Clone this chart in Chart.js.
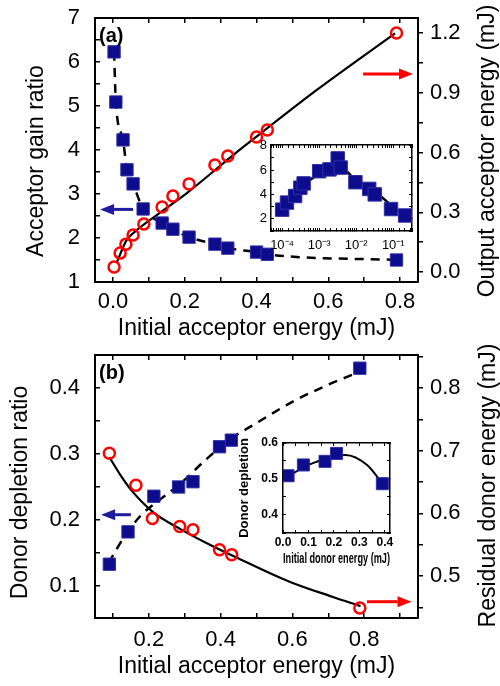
<!DOCTYPE html>
<html>
<head>
<meta charset="utf-8">
<script src="https://cdn.jsdelivr.net/npm/chart.js@4.4.0/dist/chart.umd.min.js"></script>
<style>
  body { margin: 0; background: #fff; }
  #wrap { position: relative; width: 500px; height: 686px; background: #fff; }
  canvas { position: absolute; }
</style>
</head>
<body>
<div id="wrap">
  <canvas id="chartA" width="500" height="343" style="left:0;top:0"></canvas>
  <canvas id="chartB" width="500" height="343" style="left:0;top:343px"></canvas>
  <canvas id="insetA" width="185" height="125" style="left:240px;top:130px"></canvas>
  <canvas id="insetB" width="195" height="145" style="left:225px;top:425px"></canvas>
</div>
<script>
// panel (a): acceptor gain ratio (squares, left) and output acceptor energy (circles, right)
const gainX = [0.003, 0.008, 0.028, 0.039, 0.056, 0.084, 0.137, 0.167, 0.212, 0.284, 0.32, 0.40, 0.43, 0.79];
const gainRatio = [6.23, 5.09, 4.23, 3.55, 3.23, 2.66, 2.34, 2.2, 2.02, 1.86, 1.77, 1.68, 1.63, 1.5];
const outX = [0.003, 0.02, 0.036, 0.056, 0.086, 0.137, 0.167, 0.212, 0.284, 0.32, 0.40, 0.43, 0.79];
const outEnergy = [0.025, 0.095, 0.14, 0.186, 0.241, 0.326, 0.382, 0.442, 0.537, 0.582, 0.678, 0.713, 1.2];
const outFitX = [0.011, 0.038, 0.066, 0.122, 0.205, 0.335, 0.382, 0.568, 0.786];
const outFitY = [0.05, 0.16, 0.21, 0.286, 0.395, 0.587, 0.654, 0.914, 1.198];

// inset (a), log x
const insetAX = [1e-4, 1.35e-4, 2.24e-4, 3.1e-4, 3.8e-4, 1e-3, 1.9e-3, 3.16e-3, 3.8e-3, 9.5e-3, 2.24e-2, 3.16e-2, 8.7e-2, 0.209];
const insetAY = [2.75, 3.33, 3.87, 4.55, 4.9, 5.9, 6.05, 6.95, 6.2, 5.0, 4.45, 4.0, 2.8, 2.27];
const insetAFitX = [9.1e-5, 2.04e-4, 3.1e-4, 8.7e-4, 2e-3, 3.16e-3, 6.9e-3, 1.05e-2, 3.6e-2, 0.102, 0.209];
const insetAFitY = [2.75, 3.6, 4.6, 5.6, 6.13, 6.67, 5.6, 5.07, 4.13, 2.93, 2.27];

// panel (b): donor depletion ratio (squares, left) and residual donor energy (circles, right)
const depX = [0.09, 0.142, 0.214, 0.283, 0.323, 0.397, 0.43, 0.788];
const depRatio = [0.133, 0.182, 0.236, 0.25, 0.258, 0.311, 0.321, 0.43];
const depFitX = [0.088, 0.131, 0.178, 0.224, 0.29, 0.36, 0.436, 0.482, 0.60, 0.70, 0.776];
const depFitY = [0.135, 0.174, 0.207, 0.228, 0.256, 0.292, 0.326, 0.341, 0.379, 0.405, 0.422];
const resX = [0.09, 0.164, 0.21, 0.286, 0.323, 0.397, 0.431, 0.788];
const resEnergy = [0.696, 0.645, 0.592, 0.579, 0.574, 0.542, 0.534, 0.449];
const resFitX = [0.09, 0.12, 0.15, 0.21, 0.288, 0.37, 0.454, 0.592, 0.711, 0.79];
const resFitY = [0.69, 0.662, 0.638, 0.603, 0.575, 0.55, 0.527, 0.491, 0.467, 0.452];

// inset (b)
const insetBX = [0.02, 0.08, 0.165, 0.21, 0.39];
const insetBY = [0.509, 0.539, 0.549, 0.571, 0.487];
const insetBFitX = [0.02, 0.093, 0.132, 0.21, 0.245, 0.33, 0.39];
const insetBFitY = [0.507, 0.537, 0.548, 0.566, 0.567, 0.539, 0.488];

// arrows pointing at the axis each series belongs to
const arrowsA = [
  { axis: 'y', y: 2.65, from: 0.056, to: -0.036, color: '#1c1c9c' },
  { axis: 'y2', y: 0.994, from: 0.697, to: 0.836, color: '#ff0000' }
];
const arrowsB = [
  { axis: 'y', y: 0.208, from: 0.15, to: 0.067, color: '#1c1c9c' },
  { axis: 'y2', y: 0.459, from: 0.808, to: 0.932, color: '#ff0000' }
];

const FONT = "'Liberation Sans', Arial, sans-serif";
Chart.defaults.font.family = FONT;
Chart.defaults.color = '#000';

const pts = (xs, ys) => xs.map((x, i) => ({ x: x, y: ys[i] }));
const onStep = (v, step) => Math.abs(v / step - Math.round(v / step)) < 1e-6;
const every = (step, digits) => v => onStep(v, step) ? (Math.abs(v) < 1e-9 ? 0 : v).toFixed(digits) : '';
const SUP = { '-': '\u207B', '0': '\u2070', '1': '\u00B9', '2': '\u00B2', '3': '\u00B3', '4': '\u2074', '5': '\u2075' };
const decade = v => {
  const e = Math.log10(v);
  if (Math.abs(e - Math.round(e)) > 1e-6) return '';
  return '10' + String(Math.round(e)).split('').map(c => SUP[c]).join('');
};

function axis(o) {
  return {
    type: o.type || 'linear',
    position: o.position,
    min: o.min,
    max: o.max,
    border: { color: '#000', width: o.bw || 2 },
    grid: { drawOnChartArea: false, color: '#000', lineWidth: o.tw || 1.5, tickLength: o.tick },
    ticks: {
      display: !!o.label,
      stepSize: o.step,
      includeBounds: false,
      autoSkip: false,
      maxRotation: 0,
      color: '#000',
      padding: o.pad || 0,
      font: o.font,
      callback: o.label || (() => '')
    },
    title: o.title
      ? { display: true, text: o.title, color: '#000', font: o.titleFont, padding: o.titlePad }
      : { display: false },
    afterFit: s => {
      // fixed box sizes, and no extra room asked for the end labels
      if (o.width !== undefined) s.width = o.width;
      if (o.height !== undefined) s.height = o.height;
      s.paddingTop = s.paddingBottom = s.paddingLeft = s.paddingRight = 0;
    }
  };
}

const squares = (data, r) => ({
  data: data, pointStyle: 'rect', pointRadius: r, backgroundColor: '#0c0c8c',
  borderColor: '#2e2ea6', borderWidth: 1, showLine: false, order: 1
});
const circles = (data, yAxisID) => ({
  data: data, yAxisID: yAxisID, pointStyle: 'circle', pointRadius: 5.5,
  backgroundColor: 'rgba(0,0,0,0)', borderColor: '#ff0000', borderWidth: 2.5, showLine: false, order: 1
});
const curve = (data, yAxisID, dash, w) => ({
  data: data, yAxisID: yAxisID, showLine: true, pointRadius: 0, borderColor: '#000',
  borderWidth: w || 2.2, borderDash: dash || [], cubicInterpolationMode: 'monotone', order: 2
});

// arrows, panel letter and the vertical axis titles (both read bottom to top)
const annotate = {
  id: 'annotate',
  afterDraw(chart, args, opts) {
    const ctx = chart.ctx;
    const xs = chart.scales.x;
    const area = chart.chartArea;
    ctx.save();
    (opts.arrows || []).forEach(a => {
      const y = chart.scales[a.axis].getPixelForValue(a.y);
      const x0 = xs.getPixelForValue(a.from);
      const x1 = xs.getPixelForValue(a.to);
      const dir = Math.sign(x1 - x0);
      const head = 14;
      ctx.strokeStyle = a.color;
      ctx.fillStyle = a.color;
      ctx.lineWidth = 3;
      ctx.beginPath();
      ctx.moveTo(x0, y);
      ctx.lineTo(x1 - dir * head, y);
      ctx.stroke();
      ctx.beginPath();
      ctx.moveTo(x1, y);
      ctx.lineTo(x1 - dir * head, y - 5.5);
      ctx.lineTo(x1 - dir * head, y + 5.5);
      ctx.closePath();
      ctx.fill();
    });
    ctx.fillStyle = '#000';
    ctx.textBaseline = 'middle';
    ctx.textAlign = 'center';
    (opts.titles || []).forEach(t => {
      ctx.save();
      ctx.font = '23px ' + FONT;
      ctx.translate(t.x, (area.top + area.bottom) / 2 + t.dy);
      ctx.rotate(-Math.PI / 2);
      ctx.fillText(t.text, 0, 0);
      ctx.restore();
    });
    if (opts.label) {
      ctx.font = 'bold 20px ' + FONT;
      ctx.textAlign = 'left';
      ctx.fillText(opts.label, area.left + 4, area.top + 18);
    }
    ctx.restore();
  }
};

const whiteArea = {
  id: 'whiteArea',
  beforeDraw(chart) {
    const { ctx, chartArea: a } = chart;
    ctx.save();
    ctx.fillStyle = '#fff';
    ctx.fillRect(a.left, a.top, a.right - a.left, a.bottom - a.top);
    ctx.restore();
  }
};

const base = {
  responsive: false,
  animation: false,
  events: [],
  plugins: { legend: { display: false }, tooltip: { enabled: false } }
};

const tickFont = { size: 22 };
const titleFont = { size: 23 };

// panel (a)
new Chart(document.getElementById('chartA'), {
  type: 'scatter',
  data: {
    datasets: [
      squares(pts(gainX, gainRatio), 8.7),
      curve(pts(gainX, gainRatio), 'y', [9, 7], 2.5),
      circles(pts(outX, outEnergy), 'y2'),
      curve(pts(outFitX, outFitY), 'y2')
    ]
  },
  options: {
    ...base,
    layout: { padding: { top: 18, left: 0, right: 0, bottom: 0 } },
    plugins: {
      ...base.plugins,
      annotate: {
        arrows: arrowsA,
        label: '(a)',
        titles: [
          { text: 'Acceptor gain ratio', x: 37, dy: 11 },
          { text: 'Output acceptor energy (mJ)', x: 488, dy: 1 }
        ]
      }
    },
    scales: {
      x: axis({ position: 'bottom', min: -0.0501, max: 0.85, step: 0.1, tick: -5, pad: 11.8,
        label: every(0.2, 1), font: tickFont, height: 61,
        title: 'Initial acceptor energy (mJ)', titleFont: titleFont, titlePad: { top: 0, bottom: 1 } }),
      xTop: axis({ position: 'top', min: -0.0501, max: 0.85, step: 0.1, tick: -5, height: 0 }),
      y: axis({ position: 'left', min: 1, max: 7, step: 0.5, tick: -5, pad: 20,
        label: every(1, 0), font: tickFont, width: 95 }),
      y2: axis({ position: 'right', min: -0.05, max: 1.275, step: 0.15, tick: 5, pad: 7,
        label: every(0.3, 1), font: tickFont, width: 82 })
    }
  },
  plugins: [annotate]
});

// panel (b)
new Chart(document.getElementById('chartB'), {
  type: 'scatter',
  data: {
    datasets: [
      squares(pts(depX, depRatio), 8.7),
      curve(pts(depFitX, depFitY), 'y', [9, 7], 2.5),
      circles(pts(resX, resEnergy), 'y2'),
      curve(pts(resFitX, resFitY), 'y2')
    ]
  },
  options: {
    ...base,
    layout: { padding: { top: 12, left: 0, right: 0, bottom: 0 } },
    plugins: {
      ...base.plugins,
      annotate: {
        arrows: arrowsB,
        label: '(b)',
        titles: [
          { text: 'Donor depletion ratio', x: 21, dy: 6 },
          { text: 'Residual donor energy (mJ)', x: 489, dy: -1 }
        ]
      }
    },
    scales: {
      x: axis({ position: 'bottom', min: 0.05, max: 0.9501, step: 0.1, tick: -5, pad: 13.8,
        label: every(0.2, 1), font: tickFont, height: 68,
        title: 'Initial acceptor energy (mJ)', titleFont: titleFont, titlePad: { top: 0, bottom: 6 } }),
      xTop: axis({ position: 'top', min: 0.05, max: 0.9501, step: 0.1, tick: -5, height: 0 }),
      y: axis({ position: 'left', min: 0.0515, max: 0.45, step: 0.05, tick: -5, pad: 20,
        label: every(0.1, 1), font: tickFont, width: 95 }),
      y2: axis({ position: 'right', min: 0.433, max: 0.853, step: 0.05, tick: 5, pad: 7,
        label: every(0.1, 1), font: tickFont, width: 82 })
    }
  },
  plugins: [annotate]
});

// inset (a)
new Chart(document.getElementById('insetA'), {
  type: 'scatter',
  data: {
    datasets: [
      squares(pts(insetAX, insetAY), 9.5),
      { ...curve(pts(insetAFitX, insetAFitY), 'y', [], 2.5), cubicInterpolationMode: 'default', tension: 0 }
    ]
  },
  options: {
    ...base,
    layout: { padding: { top: 15, left: 0, right: 13, bottom: 0 } },
    scales: {
      x: axis({ type: 'logarithmic', position: 'bottom', min: 5e-5, max: 0.32, tick: -3, pad: 9.8,
        label: decade, font: { size: 13 }, height: 24, bw: 1.5, tw: 1 }),
      xTop: axis({ type: 'logarithmic', position: 'top', min: 5e-5, max: 0.32, tick: -3, height: 0, bw: 1.5, tw: 1 }),
      y: axis({ position: 'left', min: 1, max: 8.05, step: 1, tick: -3, pad: 7,
        label: every(2, 0), font: { size: 13 }, width: 31, bw: 1.5, tw: 1 }),
      y2: axis({ position: 'right', min: 1, max: 8.05, step: 1, tick: -3, width: 0, bw: 1.5, tw: 1 })
    }
  },
  plugins: [whiteArea]
});

// inset (b)
new Chart(document.getElementById('insetB'), {
  type: 'scatter',
  data: {
    datasets: [
      squares(pts(insetBX, insetBY), 8.5),
      curve(pts(insetBFitX, insetBFitY), 'y', [], 2)
    ]
  },
  options: {
    ...base,
    layout: { padding: { top: 18, left: 0, right: 30, bottom: 0 } },
    scales: {
      x: axis({ position: 'bottom', min: 0, max: 0.42, step: 0.05, tick: -3, pad: 5.8,
        label: every(0.1, 1), font: { size: 12, weight: 'bold' }, height: 37, bw: 1.5, tw: 1,
        title: 'Initial donor energy (mJ)', titleFont: { size: 14, weight: 'bold' }, titlePad: { top: 0, bottom: 2.6 } }),
      xTop: axis({ position: 'top', min: 0, max: 0.42, step: 0.05, tick: -3, height: 0, bw: 1.5, tw: 1 }),
      y: axis({ position: 'left', min: 0.35, max: 0.6, step: 0.05, tick: -3, pad: 8,
        label: every(0.1, 1), font: { size: 12, weight: 'bold' }, width: 58, bw: 1.5, tw: 1,
        title: 'Donor depletion', titleFont: { size: 13, weight: 'bold' }, titlePad: { top: 12, bottom: 0 } }),
      y2: axis({ position: 'right', min: 0.35, max: 0.6, step: 0.05, tick: -3, width: 0, bw: 1.5, tw: 1 })
    }
  },
  plugins: [whiteArea]
});
</script>
</body>
</html>
